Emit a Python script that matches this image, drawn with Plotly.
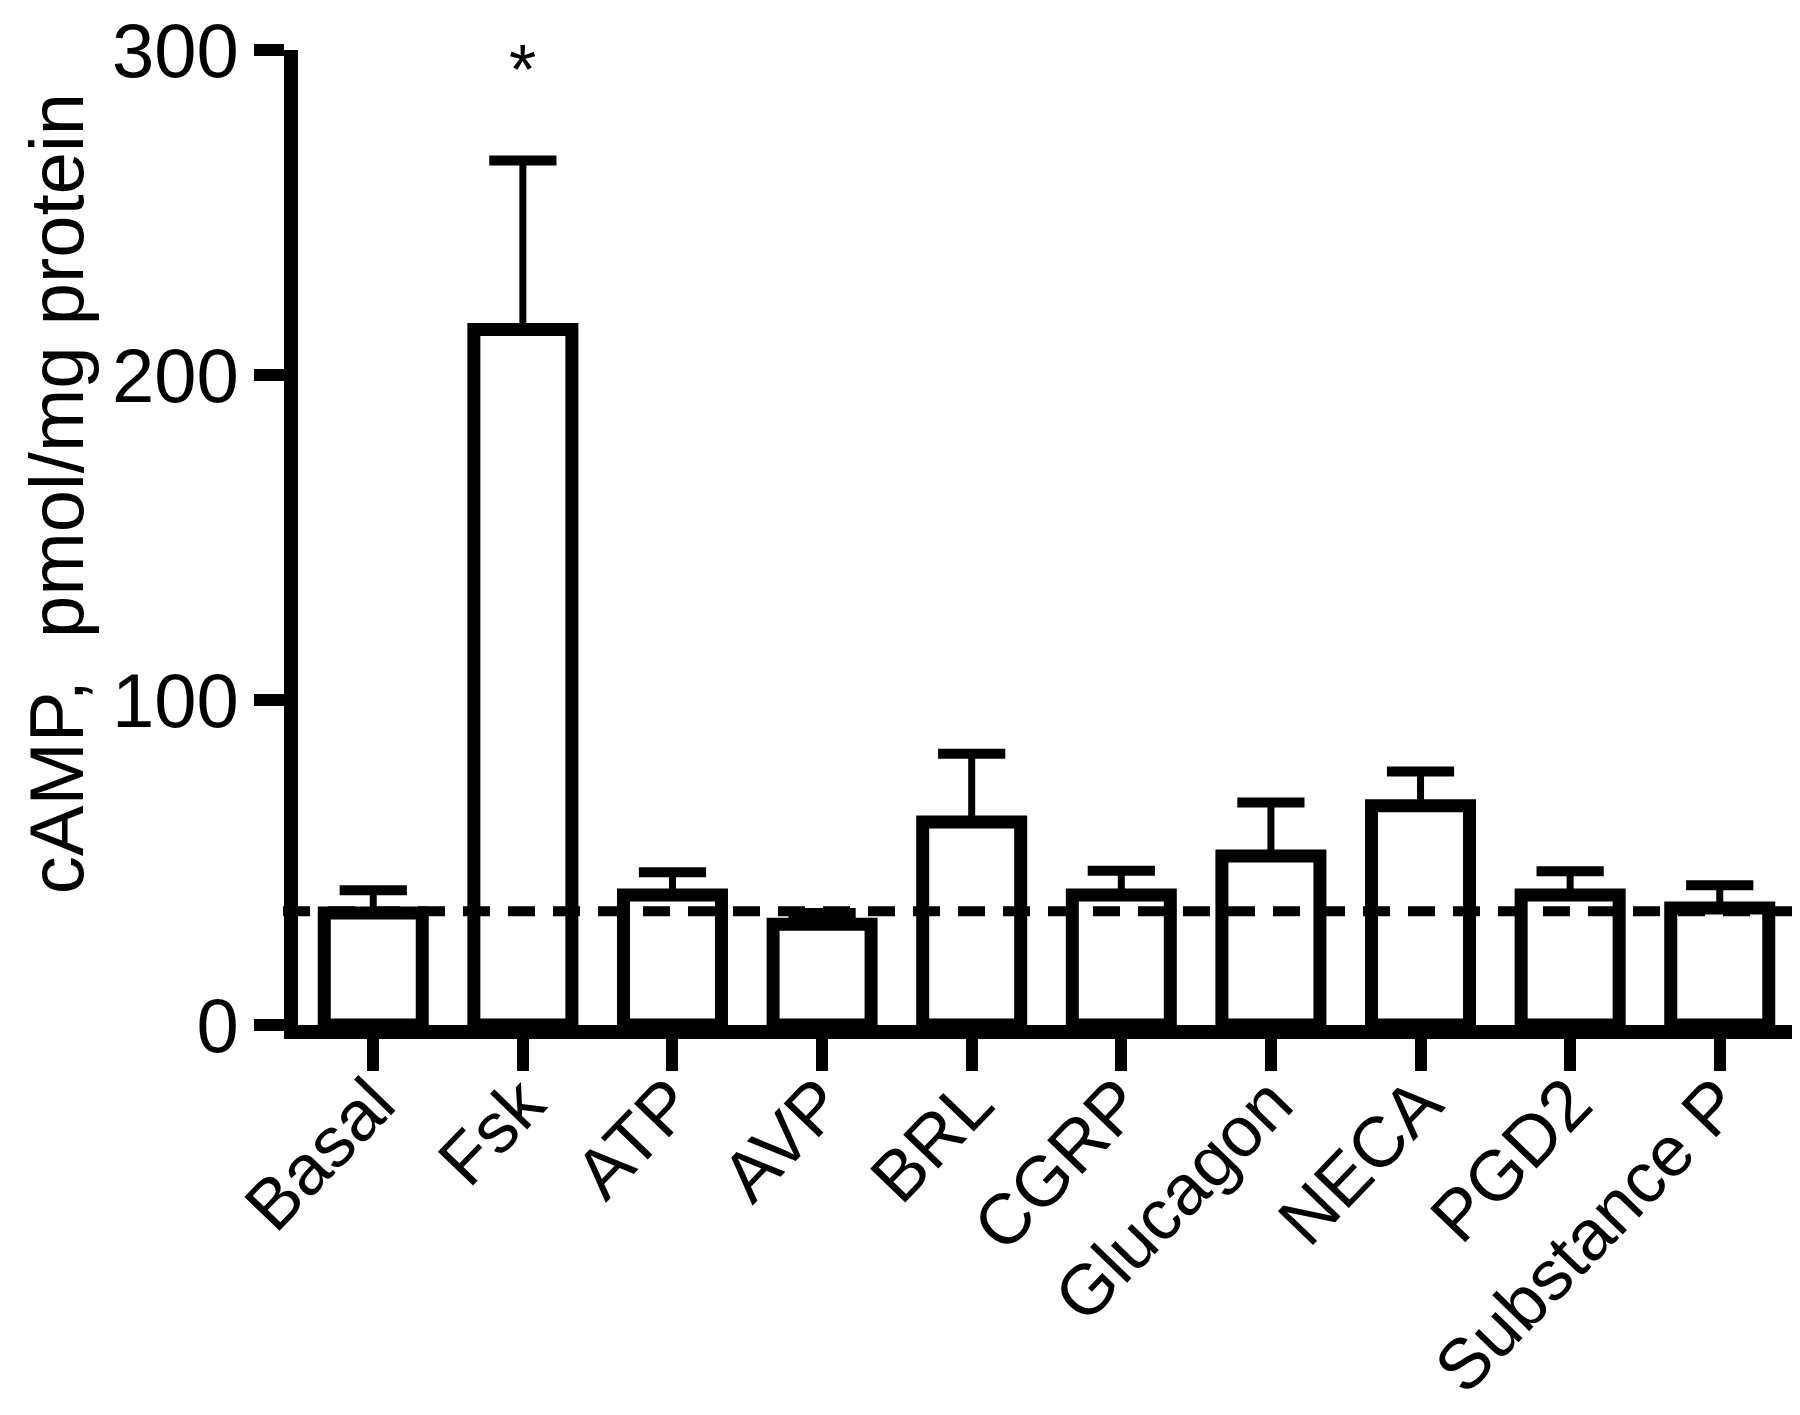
import plotly.graph_objects as go

categories = ["Basal", "Fsk", "ATP", "AVP", "BRL", "CGRP", "Glucagon", "NECA", "PGD2", "Substance P"]
camp_mean = [34.5, 214, 40, 31, 62.5, 40, 52, 67.5, 40, 36]
camp_upper = [41.5, 266, 47, 34.5, 83.5, 47.5, 68.5, 78, 47.3, 43]
basal_level = 35
signif_label = "*"
signif_at = 294

err_up = [u - m for u, m in zip(camp_upper, camp_mean)]
x_pos = list(range(len(categories)))
font_family = "Liberation Sans, Arial, sans-serif"

fig = go.Figure()
fig.add_trace(go.Bar(
    x=x_pos,
    y=camp_mean,
    width=0.655,
    marker=dict(color="white", line=dict(color="black", width=13)),
    error_y=dict(type="data", symmetric=False, array=err_up,
                 arrayminus=[0] * len(err_up),
                 color="black", thickness=7, width=30),
    showlegend=False))

# thicker caps on top of the error bars
fig.add_trace(go.Scatter(
    x=x_pos, y=camp_upper, mode="markers",
    marker=dict(symbol="line-ew", size=48, line=dict(color="black", width=10)),
    hoverinfo="skip", showlegend=False))

# basal reference line
fig.add_shape(type="line", xref="paper", yref="y", x0=-0.01, x1=1.0,
              y0=basal_level, y1=basal_level,
              line=dict(color="black", width=10, dash="27px,18px"))

fig.add_annotation(x=1, y=signif_at, text=signif_label, showarrow=False,
                   font=dict(size=70, color="black", family=font_family),
                   yanchor="middle")

fig.add_annotation(xref="paper", yref="paper", x=-0.161, y=0.545, xanchor="center",
                   text="cAMP,  pmol/mg protein", textangle=-90, showarrow=False,
                   font=dict(size=76, color="black", family=font_family))

fig.update_xaxes(range=[-0.503, 9.523], tickmode="array", tickvals=x_pos, ticktext=categories,
                 tickangle=-46, showline=True, linewidth=14, linecolor="black",
                 ticks="outside", ticklen=32, tickwidth=12, tickcolor="black",
                 showgrid=False, zeroline=False, automargin=False,
                 ticklabelstandoff=-38,
                 tickfont=dict(size=71, color="black", family=font_family))
fig.update_yaxes(range=[0, 300], tickvals=[0, 100, 200, 300],
                 showline=True, linewidth=14, linecolor="black",
                 ticks="outside", ticklen=30, tickwidth=12, tickcolor="black",
                 showgrid=False, zeroline=False, automargin=False,
                 ticklabeloverflow="allow",
                 tickfont=dict(size=76, color="black", family=font_family))

fig.update_layout(width=1800, height=1415,
                  margin=dict(l=290, r=10, t=42, b=398),
                  plot_bgcolor="white", paper_bgcolor="white")

fig.write_html("out.html")
